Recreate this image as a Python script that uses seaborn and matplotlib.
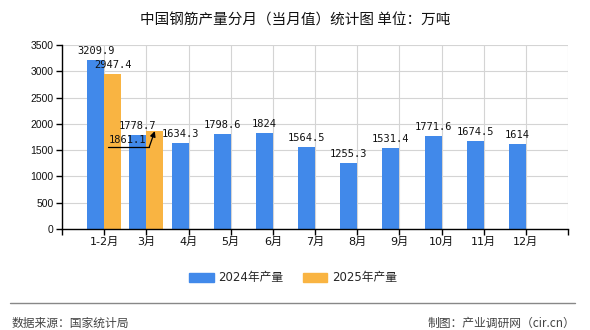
import numpy as np
import pandas as pd
import matplotlib
matplotlib.use("Agg")
import matplotlib.pyplot as plt
import seaborn as sns

categories = ["1-2月", "3月", "4月", "5月", "6月", "7月", "8月", "9月", "10月", "11月", "12月"]
values_2024 = [3209.9, 1778.7, 1634.3, 1798.6, 1824, 1564.5, 1255.3, 1531.4, 1771.6, 1674.5, 1614]
values_2025 = [2947.4, 1861.1]
series_names = ["2024年产量", "2025年产量"]
yticks = [0, 500, 1000, 1500, 2000, 2500, 3000, 3500]

title = "中国钢筋产量分月（当月值）统计图 单位：万吨"
source_left = "数据来源：国家统计局"
source_right = "制图：产业调研网（cir.cn）"

sns.set_theme(style="white")
plt.rcParams['font.family'] = ['DejaVu Sans', 'Noto Sans CJK SC']

rows = []
for c, v in zip(categories, values_2024):
    rows.append({"month": c, "year": series_names[0], "value": v})
for c, v in zip(categories, values_2025):
    rows.append({"month": c, "year": series_names[1], "value": v})
df = pd.DataFrame(rows)

colors = ["#4189EA", "#F9B442"]

fig = plt.figure(figsize=(5.9, 3.3), dpi=100)
ax = fig.add_axes([62/590, 1-229/330, (568-62)/590, (229-45)/330])

sns.barplot(data=df, x="month", y="value", hue="year", order=categories,
            hue_order=series_names, palette=colors, width=0.8, dodge=True,
            errorbar=None, ax=ax, legend=True, saturation=1, linewidth=0,
            edgecolor="none")

ax.set_xlim(-1, len(categories))
ax.set_ylim(0, 3500)
ax.set_yticks(yticks)
ax.set_yticklabels([str(t) for t in yticks], fontsize=7.5, family=['Liberation Sans'])
xt = list(range(-1, len(categories) + 1))
ax.set_xticks(xt)
ax.set_xticklabels([""] + categories + [""], fontsize=8, family=['DejaVu Sans', 'Noto Sans CJK SC'])
ax.set_xlabel("")
ax.set_ylabel("")
ax.grid(True, color="#d4d4d4", lw=0.8)
ax.set_axisbelow(True)
for s in ["top", "right"]:
    ax.spines[s].set_visible(False)
for s in ["left", "bottom"]:
    ax.spines[s].set_color("black")
    ax.spines[s].set_linewidth(1)
ax.tick_params(axis="both", which="both", direction="out", length=4, width=1,
               color="black", left=True, bottom=True, pad=2, labelcolor="#111")

# data labels
lab_font = dict(fontsize=7.5, family="DejaVu Sans Mono", color="#111")
special = None
for ci, cont in enumerate(ax.containers):
    vals = values_2024 if ci == 0 else values_2025
    k = 0
    for p in cont:
        h = p.get_height()
        if np.isnan(h) or h == 0:
            continue
        v = vals[k] if k < len(vals) else h
        k += 1
        xc = p.get_x() + p.get_width() / 2
        if ci == 1 and k == 2:
            special = (xc, h, v)
            continue
        ax.annotate(f"{v:g}", (xc, h), xytext=(0, 3), textcoords="offset points",
                    ha="center", va="bottom", **lab_font)

if special is not None:
    xc, h, v = special
    ax.annotate(f"{v:g}", (xc, h), xytext=(-20, -6.5), textcoords="offset points",
                ha="center", va="center", **lab_font)
    ax.annotate("", xy=(xc, h), xytext=(-4, -11.5), textcoords="offset points",
                arrowprops=dict(arrowstyle="-|>", color="black", lw=0.9,
                                shrinkA=0, shrinkB=0, mutation_scale=8))
    x0, y0 = ax.transData.transform((xc, h))
    pt = fig.dpi / 72
    inv = ax.transData.inverted()
    (dxa, dya), (dxb, dyb) = inv.transform([(x0 - 34 * pt, y0 - 11.5 * pt),
                                            (x0 - 4 * pt, y0 - 11.5 * pt)])
    ax.plot([dxa, dxb], [dya, dyb], color="black", lw=0.9, clip_on=False)

# legend
leg = ax.get_legend()
if leg is not None:
    leg.remove()
handles = [plt.Rectangle((0, 0), 1, 1, color=c) for c in colors]
fig.legend(handles, series_names, loc="center", bbox_to_anchor=(293/590, 1-278/330),
           ncol=2, frameon=False, fontsize=8.5, handlelength=2.1, handleheight=0.9,
           columnspacing=1.6, handletextpad=0.4)

fig.text(0.5, 1-21/330, title, ha="center", va="center", fontsize=10.5,
         family=['Noto Sans CJK SC', 'DejaVu Sans'], color="#111")

fig.add_artist(plt.Line2D([10/590, 575/590], [1-303/330, 1-303/330], color="#888", lw=1))
fig.text(12/590, 1-323/330, source_left, ha="left", va="center", fontsize=8.5,
         family=['Noto Sans CJK SC', 'DejaVu Sans'], color="#444")
fig.text(575/590, 1-323/330, source_right, ha="right", va="center", fontsize=8.5,
         family=['Noto Sans CJK SC', 'DejaVu Sans'], color="#444")

fig.savefig("out.png", dpi=100)
